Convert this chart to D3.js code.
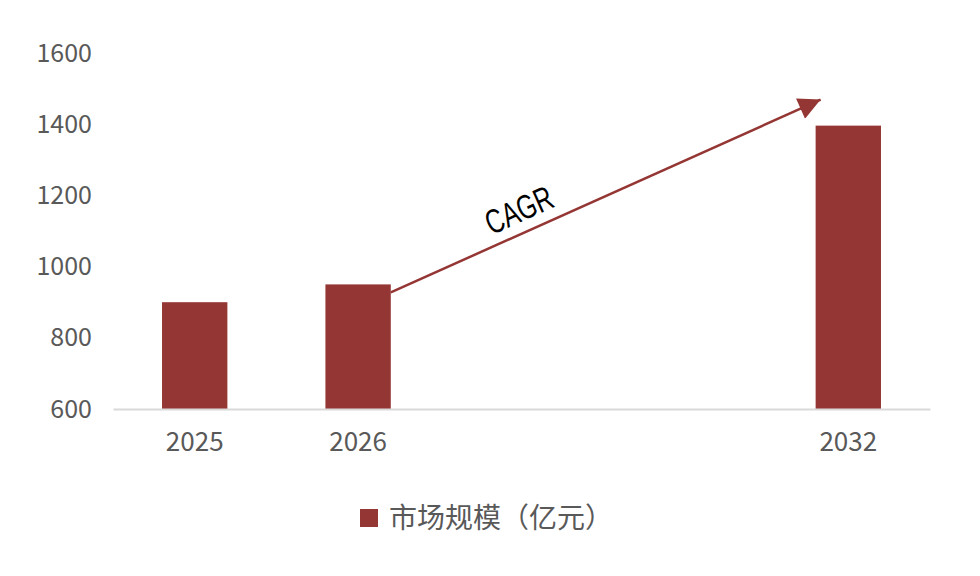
<!DOCTYPE html>
<html>
<head>
<meta charset="utf-8">
<script src="https://cdn.jsdelivr.net/npm/d3@7"></script>
<style>
  body { margin: 0; background: #fff; }
  svg { display: block; }
</style>
</head>
<body>
<script>
// slots on the x axis; the two blank ones keep the gap before 2032
var xLabels = ["2025", "2026", "", "", "2032"];
var years = ["2025", "2026", "2032"];
var values = [900, 950, 1396];
var yTicks = [600, 800, 1000, 1200, 1400, 1600];
var seriesName = "市场规模（亿元）";
var noteText = "CAGR";

var w = 980;
var h = 576;
var barColor = "#943634";
var textColor = "#595959";

var svg = d3.select("body")
  .append("svg")
  .attr("width", w)
  .attr("height", h);

var x = d3.scaleBand()
  .domain(d3.range(xLabels.length))
  .range([113, 930])
  .paddingInner(0.6)
  .paddingOuter(0.3);

var y = d3.scaleLinear()
  .domain([600, 1600])
  .range([409, 53]);

function slotOf(year) {
  return xLabels.indexOf(year);
}

// y axis labels only, no line
var yAxis = svg.append("g")
  .attr("transform", "translate(92,0)")
  .call(d3.axisLeft(y).tickValues(yTicks).tickFormat(d3.format("d")).tickSize(0).tickPadding(0));
yAxis.select(".domain").remove();
yAxis.selectAll("text")
  .attr("font-family", "'Noto Sans CJK SC', 'Noto Sans', sans-serif")
  .attr("font-size", 25)
  .attr("fill", textColor);

// bars
svg.selectAll("rect.bar")
  .data(years)
  .enter()
  .append("rect")
  .attr("class", "bar")
  .attr("x", function(d) { return x(slotOf(d)); })
  .attr("y", function(d, i) { return y(values[i]); })
  .attr("width", x.bandwidth())
  .attr("height", function(d, i) { return y(600) - y(values[i]); })
  .attr("fill", barColor);

// x axis
var xAxis = svg.append("g")
  .attr("transform", "translate(0," + y(600) + ")")
  .call(d3.axisBottom(x)
    .tickFormat(function(i) { return xLabels[i]; })
    .tickSize(0)
    .tickPadding(24));
xAxis.select(".domain")
  .attr("stroke", "#d9d9d9")
  .attr("stroke-width", 2);
xAxis.selectAll("text")
  .attr("font-family", "'Noto Sans CJK SC', 'Noto Sans', sans-serif")
  .attr("font-size", 26)
  .attr("fill", textColor);

// CAGR arrow
svg.append("defs")
  .append("marker")
  .attr("id", "head")
  .attr("viewBox", "0 0 10 10")
  .attr("refX", 10)
  .attr("refY", 5)
  .attr("markerUnits", "userSpaceOnUse")
  .attr("markerWidth", 28)
  .attr("markerHeight", 22)
  .attr("orient", "auto")
  .append("path")
  .attr("d", "M0,0L10,5L0,10Z")
  .attr("fill", barColor);

var i26 = years.indexOf("2026");
var i32 = years.indexOf("2032");
var x1 = x(slotOf("2026")) + x.bandwidth();
var y1 = y(values[i26]) + 8;
var x2 = x(slotOf("2032")) + 5;
var y2 = y(values[i32]) - 26;

svg.append("line")
  .attr("x1", x1)
  .attr("y1", y1)
  .attr("x2", x2)
  .attr("y2", y2)
  .attr("stroke", barColor)
  .attr("stroke-width", 2.5)
  .attr("marker-end", "url(#head)");

var angle = Math.atan2(y2 - y1, x2 - x1) * 180 / Math.PI;
var t = 0.32;
svg.append("text")
  .attr("transform", "translate(" + (x1 + t * (x2 - x1)) + "," + (y1 + t * (y2 - y1)) + ") rotate(" + angle + ") scale(0.72,1)")
  .attr("y", -11)
  .attr("text-anchor", "middle")
  .attr("font-family", "'Liberation Sans', Arial, sans-serif")
  .attr("font-size", 34)
  .attr("fill", "#000")
  .text(noteText);

// legend
var legend = svg.append("g")
  .attr("transform", "translate(360,509)");
legend.append("rect")
  .attr("width", 18)
  .attr("height", 18)
  .attr("fill", barColor);
legend.append("text")
  .attr("x", 29)
  .attr("y", 9)
  .attr("dy", "0.36em")
  .attr("font-family", "'Noto Sans CJK SC', sans-serif")
  .attr("font-size", 28)
  .attr("fill", textColor)
  .text(seriesName);
</script>
</body>
</html>
